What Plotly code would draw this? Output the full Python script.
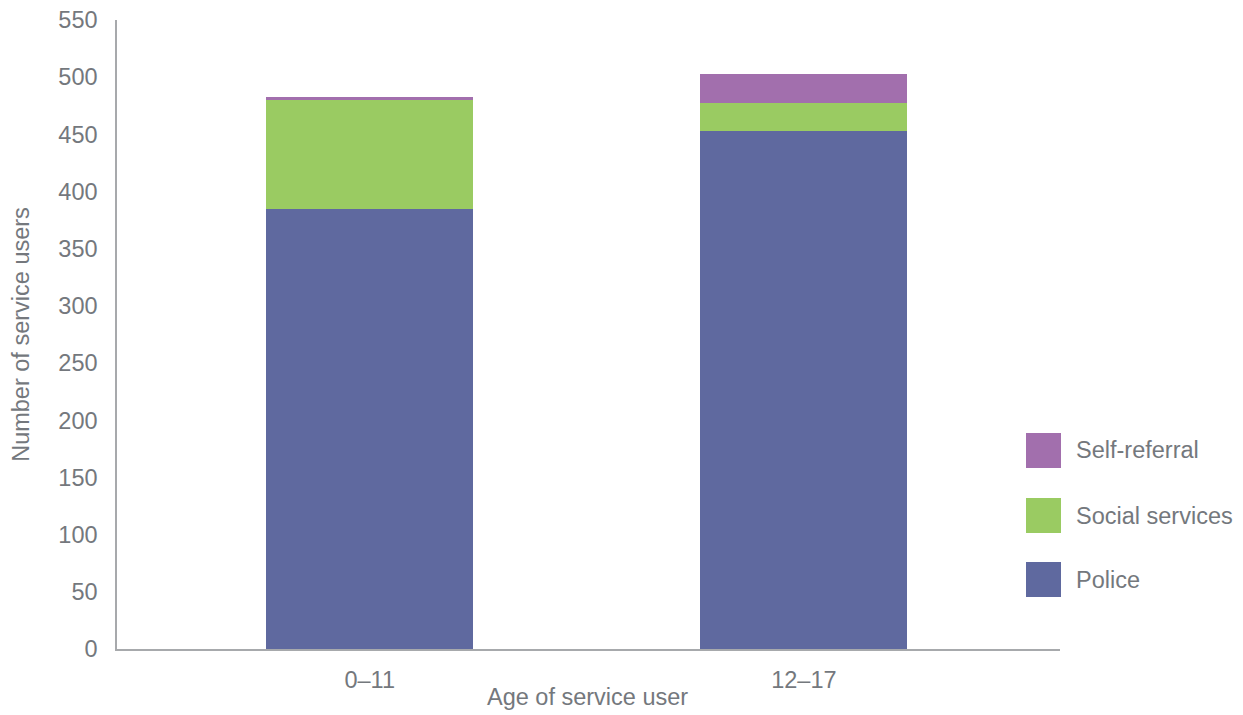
import plotly.graph_objects as go

categories = ["0–11", "12–17"]
police = [385, 453]
social_services = [95, 24]
self_referral = [3, 26]

series_names = ["Police", "Social services", "Self-referral"]
series_values = [police, social_services, self_referral]
colors = ["#5F699F", "#9ACB62", "#A26FAD"]

y_ticks = list(range(0, 551, 50))

FONT = "Liberation Sans, Arial, Helvetica, sans-serif"
TXT = "#74787D"
AXIS = "#A7A9AC"
FS = 23.5

# page offset from default body margin
OFF = 8
W, H = 1243, 715
# desired plot area in page pixels
PX0, PX1, PY0, PY1 = 117, 1060, 20, 649
ml, mr = PX0 - OFF, W - (PX1 - OFF)
mt, mb = PY0 - OFF, H - (PY1 - OFF)
pw, ph = PX1 - PX0, PY1 - PY0

fig = go.Figure()
for name, vals, col in zip(series_names, series_values, colors):
    fig.add_trace(go.Bar(x=categories, y=vals, name=name, marker=dict(color=col, line=dict(width=0)),
                         width=0.477, showlegend=False))

# custom legend (large swatches), top to bottom: Self-referral, Social services, Police
legend_order = [2, 1, 0]
legend_tops = [433, 498, 562]
for idx, top in zip(legend_order, legend_tops):
    x0 = (1026 - PX0) / pw
    x1 = (1061 - PX0) / pw
    y1 = 1 - (top - PY0) / ph
    y0 = 1 - (top + 35 - PY0) / ph
    fig.add_shape(type="rect", xref="paper", yref="paper", x0=x0, x1=x1, y0=y0, y1=y1,
                  fillcolor=colors[idx], line=dict(width=0))
    fig.add_annotation(xref="paper", yref="paper", x=(1074 - PX0) / pw, y=(y0 + y1) / 2,
                       text=series_names[idx], showarrow=False, xanchor="left", yanchor="middle",
                       font=dict(family=FONT, size=FS, color=TXT))

# x-axis title as annotation for exact placement
fig.add_annotation(xref="paper", yref="paper", x=(587 - PX0) / pw, y=-(697 - PY1) / ph,
                   text="Age of service user", showarrow=False, xanchor="center", yanchor="middle",
                   font=dict(family=FONT, size=FS, color=TXT))

fig.update_layout(
    barmode="stack",
    width=W, height=H,
    margin=dict(l=ml, r=mr, t=mt, b=mb, autoexpand=False),
    paper_bgcolor="white", plot_bgcolor="white",
    font=dict(family=FONT, size=FS, color=TXT),
    bargap=0,
)
fig.update_xaxes(
    range=[-0.582, 1.59], showgrid=False, showline=True, linecolor=AXIS, linewidth=1.5,
    ticks="outside", ticklen=9, tickcolor="rgba(0,0,0,0)", automargin=False,
    tickfont=dict(size=FS, color=TXT),
)
fig.update_yaxes(
    range=[0, 550], tickvals=y_ticks, showgrid=False, zeroline=False, showline=True,
    linecolor=AXIS, linewidth=1.5, ticks="outside", ticklen=13, tickcolor="rgba(0,0,0,0)",
    tickfont=dict(size=FS, color=TXT), automargin=False, ticklabeloverflow="allow",
    title=dict(text="Number of service users", font=dict(size=FS, color=TXT), standoff=27),
)

fig.write_html("out.html")
